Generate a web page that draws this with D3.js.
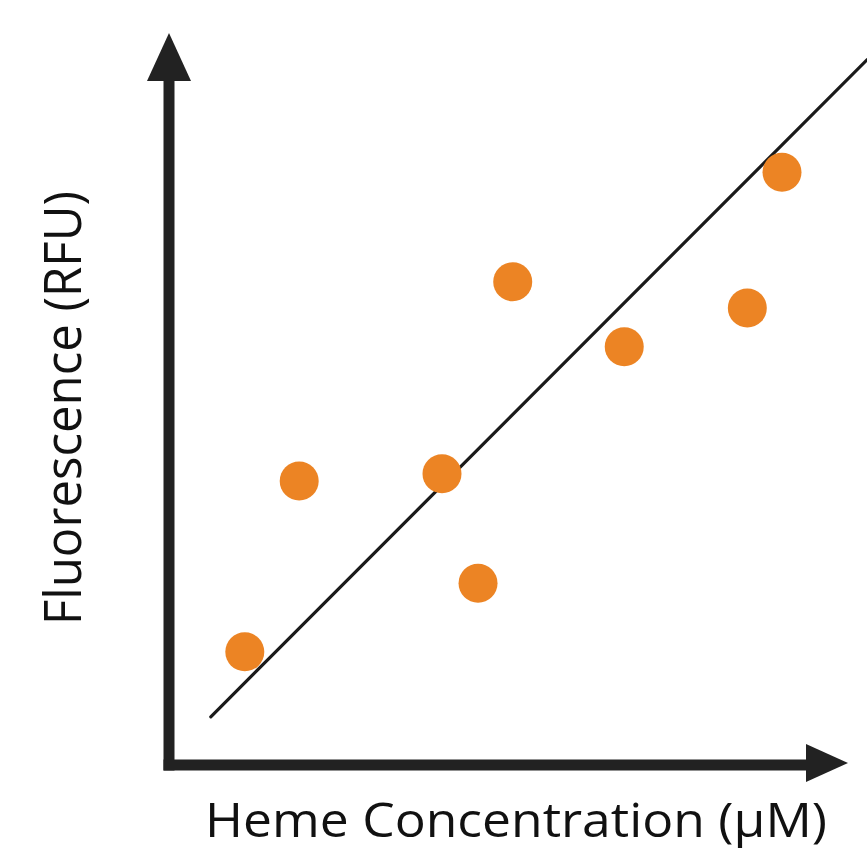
<!DOCTYPE html>
<html>
<head>
<meta charset="utf-8">
<script src="https://cdn.jsdelivr.net/npm/d3@7"></script>
<style>
  html, body { margin: 0; padding: 0; background: #ffffff; }
  svg { display: block; }
  text { font-variant-ligatures: none; font-feature-settings: "liga" 0, "clig" 0; }
</style>
</head>
<body>
<svg id="chart" width="867" height="853"></svg>
<script>
// ---- data (arbitrary units 0..10) ----
const heme = [1.10, 1.90, 4.00, 4.53, 5.04, 6.68, 8.49, 9.00];
const fluorescence = [1.55, 3.89, 3.99, 2.49, 6.62, 5.73, 6.26, 8.12];
const fitX = [0.60, 10.25];
const fitY = [0.66, 9.66];
const xTitle = "Heme Concentration (μM)";
const yTitle = "Fluorescence (RFU)";

const svg = d3.select("#chart");

const x = d3.scaleLinear().domain([0, 10]).range([170, 850]);
const y = d3.scaleLinear().domain([0, 10]).range([765, 35]);

const axisColor = "#222222";
const dotColor = "#ec8424";

// regression line
svg.append("line")
  .attr("x1", x(fitX[0])).attr("y1", y(fitY[0]))
  .attr("x2", x(fitX[1])).attr("y2", y(fitY[1]))
  .attr("stroke", "#1a1a1a")
  .attr("stroke-width", 3.2)
  .attr("stroke-linecap", "round");

// points
svg.append("g").selectAll("circle")
  .data(heme.map((h, i) => ({ h, f: fluorescence[i] })))
  .join("circle")
  .attr("cx", d => x(d.h))
  .attr("cy", d => y(d.f))
  .attr("r", 19.5)
  .attr("fill", dotColor);

// axes with arrowheads
const x0 = x.range()[0] - 1, yBase = y.range()[0];
const xEnd = x.range()[1] - 2, yEnd = y.range()[1] - 2;
const shaft = 11;

svg.append("line")
  .attr("x1", x0).attr("y1", yBase + shaft / 2)
  .attr("x2", x0).attr("y2", yEnd + 45)
  .attr("stroke", axisColor).attr("stroke-width", shaft);
svg.append("line")
  .attr("x1", x0 - shaft / 2).attr("y1", yBase)
  .attr("x2", xEnd - 40).attr("y2", yBase)
  .attr("stroke", axisColor).attr("stroke-width", shaft);

svg.append("path")
  .attr("d", d3.line()([[x0, yEnd], [x0 - 22, yEnd + 48], [x0 + 22, yEnd + 48]]) + "Z")
  .attr("fill", axisColor);
svg.append("path")
  .attr("d", d3.line()([[xEnd, yBase - 2], [xEnd - 42, yBase - 21], [xEnd - 42, yBase + 17]]) + "Z")
  .attr("fill", axisColor);

// titles
svg.append("text")
  .attr("x", 516).attr("y", 837)
  .attr("text-anchor", "middle")
  .attr("font-family", "'Open Sans', Lato, sans-serif")
  .attr("font-size", 47)
  .attr("textLength", 622)
  .attr("lengthAdjust", "spacingAndGlyphs")
  .attr("fill", "#111")
  .text(xTitle);

svg.append("text")
  .attr("transform", "translate(81,408) rotate(-90)")
  .attr("text-anchor", "middle")
  .attr("font-family", "'Open Sans', Lato, sans-serif")
  .attr("font-size", 52)
  .attr("textLength", 434)
  .attr("lengthAdjust", "spacingAndGlyphs")
  .attr("fill", "#111")
  .text(yTitle);
</script>
</body>
</html>
